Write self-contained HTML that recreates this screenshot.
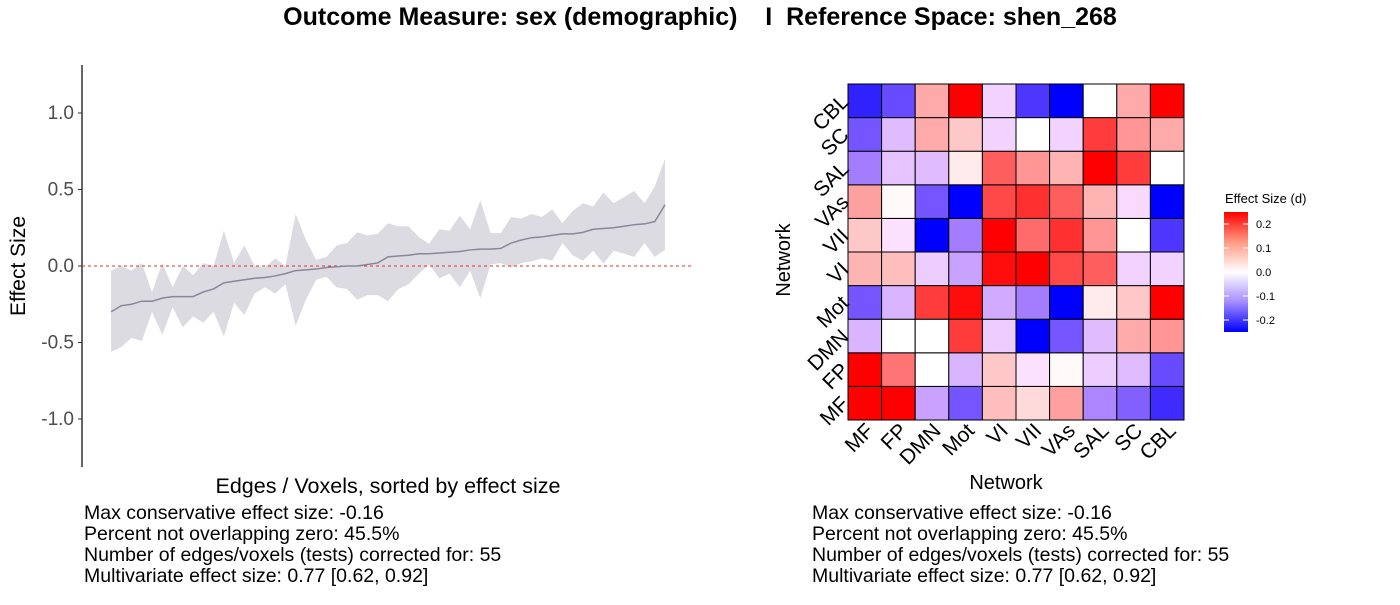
<!DOCTYPE html>
<html><head><meta charset="utf-8">
<style>
body{margin:0;background:#fff;font-family:"Liberation Sans",Arial,sans-serif;}
svg text{font-family:"Liberation Sans",Arial,sans-serif;white-space:pre;}
</style></head>
<body>
<svg id="chart" width="1400" height="600" xmlns="http://www.w3.org/2000/svg">
<text x="700" y="25" text-anchor="middle" font-size="25" font-weight="bold" xml:space="preserve">Outcome Measure: sex (demographic)    I  Reference Space: shen_268</text>
<g id="left"></g>
<g id="right"></g>
</svg>
<script>
const meanVals=[-0.30,-0.26,-0.25,-0.23,-0.23,-0.21,-0.20,-0.20,-0.20,-0.17,-0.15,-0.11,-0.10,-0.09,-0.08,-0.075,-0.065,-0.05,-0.03,-0.025,-0.02,-0.01,-0.005,0,0,0.01,0.02,0.06,0.065,0.07,0.08,0.08,0.085,0.09,0.095,0.105,0.11,0.11,0.115,0.15,0.17,0.185,0.19,0.20,0.21,0.21,0.22,0.24,0.245,0.25,0.26,0.27,0.275,0.29,0.40];
const upperVals=[-0.03,0,-0.03,0.02,-0.17,0.02,-0.14,0,-0.06,0.02,0,0.23,0.02,0.135,0,-0.01,0.05,0,0.34,0.17,0.04,0.06,0.135,0.15,0.22,0.20,0.21,0.28,0.26,0.26,0.19,0.145,0.24,0.23,0.33,0.24,0.43,0.215,0.215,0.32,0.31,0.34,0.32,0.37,0.28,0.36,0.41,0.39,0.48,0.41,0.45,0.49,0.41,0.52,0.70];
const lowerVals=[-0.56,-0.53,-0.47,-0.49,-0.30,-0.45,-0.27,-0.40,-0.33,-0.37,-0.30,-0.46,-0.24,-0.32,-0.18,-0.14,-0.18,-0.12,-0.39,-0.22,-0.09,-0.07,-0.14,-0.15,-0.22,-0.19,-0.19,-0.23,-0.15,-0.12,-0.05,0.01,-0.08,-0.05,-0.14,-0.03,-0.21,0.01,0.02,-0.01,0.02,0.03,0.05,0.035,0.15,0.07,0.035,0.10,0.015,0.10,0.08,0.06,0.15,0.06,0.105];
const yTicks=[1.0,0.5,0.0,-0.5,-1.0];
const yTickLabels=["1.0","0.5","0.0","-0.5","-1.0"];
const networks=["MF","FP","DMN","Mot","VI","VII","VAs","SAL","SC","CBL"];
// rows from bottom (MF) to top (CBL); columns MF..CBL
const heatVals=[
[0.25,0.25,-0.09,-0.17,0.08,0.05,0.11,-0.12,-0.16,-0.21],
[0.25,0.15,0.0,-0.07,0.07,-0.01,0.01,-0.04,-0.06,-0.18],
[-0.07,0.0,0.0,0.20,-0.04,-0.25,-0.17,-0.06,0.10,0.12],
[-0.17,-0.07,0.20,0.24,-0.08,-0.13,-0.25,0.03,0.07,0.25],
[0.09,0.08,-0.04,-0.09,0.24,0.25,0.19,0.17,-0.03,-0.03],
[0.07,-0.01,-0.25,-0.13,0.25,0.16,0.21,0.12,0.0,-0.20],
[0.11,0.01,-0.17,-0.25,0.19,0.21,0.17,0.09,-0.02,-0.25],
[-0.13,-0.05,-0.06,0.03,0.17,0.12,0.09,0.25,0.20,0.0],
[-0.17,-0.06,0.10,0.07,-0.03,0.0,-0.03,0.20,0.12,0.10],
[-0.22,-0.18,0.10,0.25,-0.03,-0.20,-0.25,0.0,0.10,0.25]];
const legendTicks=[0.2,0.1,0.0,-0.1,-0.2];
const statsLines=["Max conservative effect size: -0.16","Percent not overlapping zero: 45.5%","Number of edges/voxels (tests) corrected for: 55","Multivariate effect size: 0.77 [0.62, 0.92]"];

const NS="http://www.w3.org/2000/svg";
function mk(p,t,a,txt){const e=document.createElementNS(NS,t);for(const k in a)e.setAttribute(k,a[k]);if(txt!==undefined)e.textContent=txt;p.appendChild(e);return e;}
const L=document.getElementById('left'),R=document.getElementById('right');
const ys=v=>266-v*153;
const xs=i=>111+i*(665-111)/(meanVals.length-1);
let ax=mk(L,'line',{x1:82,y1:65,x2:82,y2:467,stroke:'#333','stroke-width':1.5});


yTicks.forEach((v,i)=>{
 let tk=mk(L,'line',{x1:78,x2:82,y1:ys(v),y2:ys(v),stroke:'#333'});
 
 
 let t=mk(L,'text',{x:74,y:ys(v)+6,'text-anchor':'end','font-size':19,fill:'#4d4d4d'},yTickLabels[i]);
 
 
});
let pts=upperVals.map((v,i)=>xs(i)+','+ys(v)).join(' ')+' '+lowerVals.map((v,i)=>xs(i)+','+ys(v)).reverse().join(' ');
let band=mk(L,'polygon',{points:pts,fill:'#dcdbe2'});


let zl=mk(L,'line',{x1:82,x2:692,y1:ys(0),y2:ys(0),stroke:'#e03030','stroke-dasharray':'3,3','stroke-width':1});


let ml=mk(L,'polyline',{points:meanVals.map((v,i)=>xs(i)+','+ys(v)).join(' '),fill:'none',stroke:'#8a879c','stroke-width':1.5});


let yt=mk(L,'text',{x:0,y:0,transform:'translate(25,266) rotate(-90)','text-anchor':'middle','font-size':21},'Effect Size');


let xt=mk(L,'text',{x:388,y:493,'text-anchor':'middle','font-size':21.5},'Edges / Voxels, sorted by effect size');


statsLines.forEach((s,i)=>{
 let t=mk(L,'text',{x:84,y:519+i*21,'font-size':19.5},s);
 
 
 let t2=mk(R,'text',{x:812,y:519+i*21,'font-size':19.5},s);
 
 
});
function col(v){let t=Math.max(-1,Math.min(1,v/0.25));let s=Math.pow(Math.abs(t),1.2);let r,g,b;
 if(t>=0){r=255;g=Math.round(255*(1-s));b=g;}else{b=255;r=Math.round(255*(1-s));g=Math.round(255*(1-s)*0.9);r=Math.min(255,r+Math.round(25*s*(1-s)*4));}
 return `rgb(${r},${g},${b})`;}
const hx0=848,hy0=84,cw=33.6;
heatVals.forEach((row,ri)=>row.forEach((v,ci)=>{
 let c=mk(R,'rect',{x:hx0+ci*cw,y:hy0+(9-ri)*cw,width:cw,height:cw,fill:col(v),stroke:'#000','stroke-width':1});
 
 
}));
networks.forEach((n,i)=>{
 let cx=hx0+i*cw+cw/2;
 let t=mk(R,'text',{x:0,y:0,transform:`translate(${cx+10},${hy0+10*cw+12}) rotate(-45)`,'text-anchor':'end','font-size':21},n);
 
 
 let cy=hy0+(9-i)*cw+cw/2;
 let t2=mk(R,'text',{x:0,y:0,transform:`translate(${hx0+2},${cy+2}) rotate(-45)`,'text-anchor':'end','font-size':21},n);
 
 
});
let hxt=mk(R,'text',{x:1006,y:489,'text-anchor':'middle','font-size':20},'Network');


let hyt=mk(R,'text',{x:0,y:0,transform:'translate(790,260) rotate(-90)','text-anchor':'middle','font-size':20},'Network');


let defs=mk(R,'defs',{});let lg=mk(defs,'linearGradient',{id:'lg',x1:0,y1:0,x2:0,y2:1});
mk(lg,'stop',{offset:'0','stop-color':'#ff0000'});mk(lg,'stop',{offset:'0.25','stop-color':'#ff9a82'});mk(lg,'stop',{offset:'0.5','stop-color':'#ffffff'});mk(lg,'stop',{offset:'0.75','stop-color':'#a58cff'});mk(lg,'stop',{offset:'1','stop-color':'#0000ff'});
let lt=mk(R,'text',{x:1225,y:203,'font-size':13},'Effect Size (d)');


let lb=mk(R,'rect',{x:1224,y:212,width:24,height:120,fill:'url(#lg)'});


legendTicks.forEach(v=>{let y=272-v*240;
 let t=mk(R,'text',{x:1256,y:y+4,'font-size':11},v.toFixed(1));
 
 
 mk(R,'line',{x1:1224,x2:1229,y1:y,y2:y,stroke:'#fff'});mk(R,'line',{x1:1243,x2:1248,y1:y,y2:y,stroke:'#fff'});
});
</script>
</body></html>
